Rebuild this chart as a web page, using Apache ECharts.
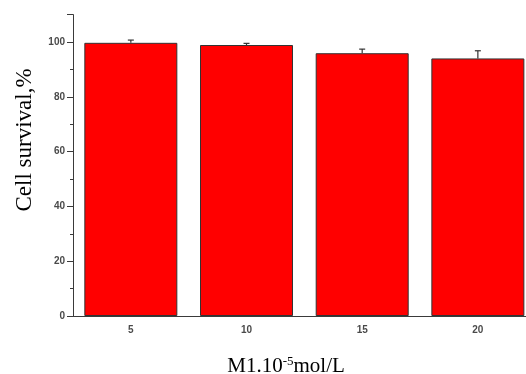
<!DOCTYPE html>
<html>
<head>
<meta charset="utf-8">
<script src="https://cdn.jsdelivr.net/npm/echarts@6/dist/echarts.min.js"></script>
<style>
  html, body { margin: 0; padding: 0; background: #fff; }
  #chart { width: 526px; height: 374px; }
</style>
</head>
<body>
<div id="chart"></div>
<script>
// Concentrations (x categories), mean survival and standard error
var concentrations = ['5', '10', '15', '20'];
var survival = [99.7, 98.9, 95.9, 94.0];
var errors = [1.0, 0.6, 1.5, 2.8];
var yTicks = [0, 20, 40, 60, 80, 100];

var chart = echarts.init(document.getElementById('chart'), null, { renderer: 'canvas' });

var axisColor = '#3a3a3a';
var labelFont = { fontFamily: 'Arial, "Liberation Sans", sans-serif', fontSize: 10, color: '#4a4a4a', fontWeight: 'bold' };

var option = {
  animation: false,
  backgroundColor: '#fff',
  // the plot area runs past the right edge of the canvas
  grid: { left: 73, top: 14.6, width: 462.7, bottom: 58, outerBoundsMode: 'none', containLabel: false },
  xAxis: [
    {
      type: 'category',
      data: concentrations,
      boundaryGap: true,
      axisLine: { lineStyle: { color: axisColor, width: 1 } },
      axisTick: { alignWithLabel: true, length: 5, lineStyle: { color: axisColor } },
      axisLabel: Object.assign({ margin: 9 }, labelFont)
    },
    {
      type: 'category',
      data: concentrations,
      position: 'bottom',
      boundaryGap: true,
      axisLine: { show: false },
      axisTick: { alignWithLabel: false, length: 3, lineStyle: { color: axisColor } },
      axisLabel: { show: false }
    }
  ],
  yAxis: {
    type: 'value',
    min: 0,
    max: 110,
    interval: 20,
    splitLine: { show: false },
    axisLine: { show: true, lineStyle: { color: axisColor, width: 1 } },
    axisTick: { show: true, length: 6, lineStyle: { color: axisColor } },
    minorTick: { show: true, splitNumber: 2, length: 3, lineStyle: { color: axisColor } },
    axisLabel: Object.assign({
      margin: 8,
      formatter: function (v) { return yTicks.indexOf(v) >= 0 ? String(v) : ''; }
    }, labelFont)
  },
  series: [
    {
      type: 'bar',
      data: survival,
      barWidth: 93,
      itemStyle: { color: '#ff0000', borderColor: '#333', borderWidth: 1 }
    },
    {
      type: 'custom',
      data: survival.map(function (v, i) { return [i, v, errors[i]]; }),
      z: 5,
      renderItem: function (params, api) {
        var base = api.coord([api.value(0), api.value(1)]);
        var top = api.coord([api.value(0), api.value(1) + api.value(2)]);
        var half = 3;
        var style = { stroke: '#333', lineWidth: 1.2 };
        return {
          type: 'group',
          children: [
            { type: 'line', shape: { x1: base[0], y1: base[1], x2: top[0], y2: top[1] }, style: style },
            { type: 'line', shape: { x1: top[0] - half, y1: top[1], x2: top[0] + half, y2: top[1] }, style: style }
          ]
        };
      }
    }
  ],
  graphic: [
    {
      type: 'text',
      x: 25,
      y: 140,
      rotation: Math.PI / 2,
      style: {
        text: 'Cell survival,%',
        font: '23px "Liberation Serif", "Times New Roman", serif',
        fill: '#000',
        align: 'center',
        verticalAlign: 'middle'
      }
    },
    {
      type: 'text',
      x: 286,
      y: 366,
      style: {
        text: '{a|M1.10}{s|-5}{a|mol/L}',
        align: 'center',
        verticalAlign: 'middle',
        rich: {
          a: { font: '21px "Liberation Serif", "Times New Roman", serif', fill: '#000', verticalAlign: 'bottom' },
          s: { font: '13px "Liberation Serif", "Times New Roman", serif', fill: '#000', verticalAlign: 'top', padding: [0, 0, 8, 0] }
        }
      }
    }
  ]
};

chart.setOption(option);
</script>
</body>
</html>
